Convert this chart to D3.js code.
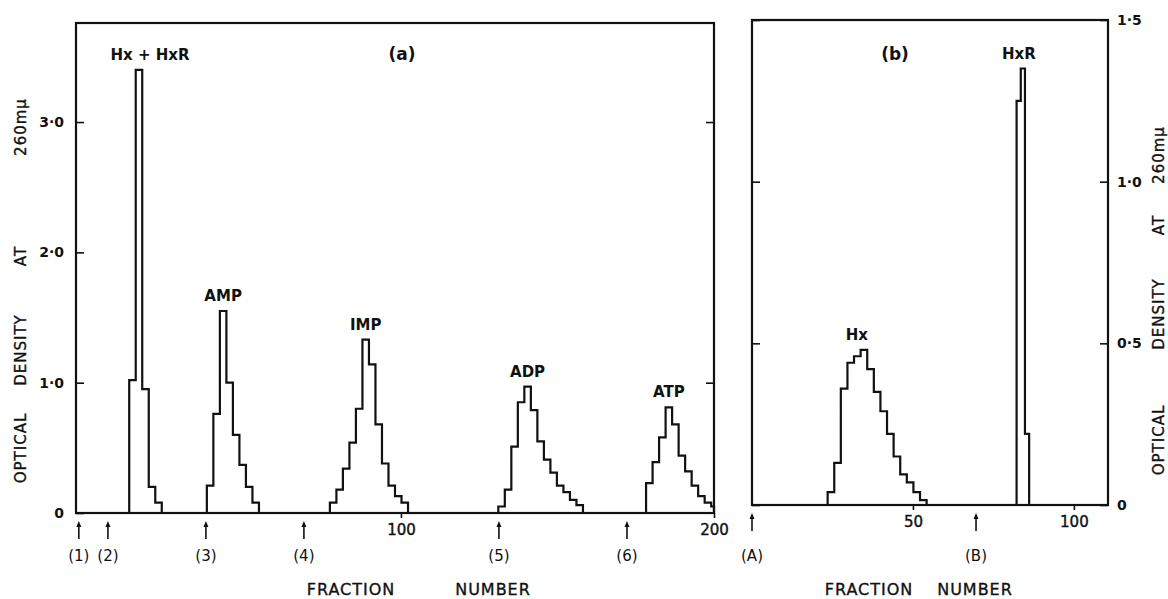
<!DOCTYPE html>
<html>
<head>
<meta charset="utf-8">
<script src="https://d3js.org/d3.v7.min.js"></script>
<style>
  body { margin: 0; background: #fff; }
  text { font-family: "DejaVu Sans", sans-serif; fill: #111; }
  .lbl { font-weight: bold; font-size: 15px; }
  .tick text { font-weight: bold; font-size: 14px; }
  .title { font-size: 15px; letter-spacing: 1px; stroke: #111; stroke-width: 0.35px; }
</style>
</head>
<body>
<div id="chart"></div>
<script>
// panel (a) - fractions 0..200, one step every ~2 fractions
var binA = 2.08;
var peaksA = ["Hx + HxR", "AMP", "IMP", "ADP", "ATP"];
var startA = [13.2, 38.0, 77.3, 131.1, 178.3];
var odHxHxR = [1.02, 3.40, 0.95, 0.20, 0.08];
var odAMP = [0.21, 0.76, 1.55, 1.00, 0.60, 0.37, 0.20, 0.08];
var odIMP = [0.08, 0.18, 0.34, 0.54, 0.80, 1.33, 1.14, 0.68, 0.38, 0.21, 0.13, 0.08];
var odADP = [0.05, 0.18, 0.51, 0.85, 0.97, 0.79, 0.55, 0.41, 0.31, 0.21, 0.16, 0.10, 0.06];
var odATP = [0.23, 0.39, 0.58, 0.81, 0.68, 0.44, 0.32, 0.21, 0.13, 0.08, 0.05];
var seriesA = [odHxHxR, odAMP, odIMP, odADP, odATP];
var arrowsA = [-2.9, 6.4, 37.7, 69.0, 131.3, 172.2];
var arrowLabelsA = ["(1)", "(2)", "(3)", "(4)", "(5)", "(6)"];
var yTicksA = [0, 1, 2, 3];
var yTicksRightA = [1, 3];
var xTicksA = [100, 200];

// panel (b)
var peaksB = ["Hx", "HxR"];
var startB = [23.5, 82.2];
var binB = [2.05, 1.3];
var odHx = [0.04, 0.13, 0.36, 0.44, 0.46, 0.48, 0.42, 0.35, 0.29, 0.22, 0.15, 0.095, 0.07, 0.04, 0.015];
var odHxR = [1.25, 1.35, 0.22];
var seriesB = [odHx, odHxR];
var arrowsB = [0, 69.6];
var arrowLabelsB = ["(A)", "(B)"];
var yTicksB = [0, 0.5, 1.0, 1.5];
var xTicksB = [50, 100];

var yWords = ["OPTICAL", "DENSITY", "AT", "260m\u03bc"];
var xWords = ["FRACTION", "NUMBER"];

var W = 1168, H = 599;
var svg = d3.select("#chart").append("svg")
  .attr("width", W).attr("height", H);

var xa = d3.scaleLinear().domain([-3.8, 200]).range([76, 714]);
var ya = d3.scaleLinear().domain([0, 3.76]).range([513, 23]);
var xb = d3.scaleLinear().domain([0, 110.6]).range([752, 1108]);
var yb = d3.scaleLinear().domain([0, 1.5]).range([505, 20]);

function fmt(d) {
  return d === 0 ? "0" : d3.format(".1f")(d).replace(".", "\u00b7");
}

// builds the outline of one stepped peak
function steps(start, w, vals, xmax) {
  var pts = [[start, 0]];
  vals.forEach(function(v, i) {
    pts.push([start + i * w, v]);
    pts.push([Math.min(start + (i + 1) * w, xmax), v]);
  });
  pts.push([Math.min(start + vals.length * w, xmax), 0]);
  return pts;
}

function arrow(g, x, y0) {
  g.append("line").attr("x1", x).attr("x2", x).attr("y1", y0 + 3).attr("y2", y0 + 18)
    .attr("stroke", "#111").attr("stroke-width", 1.6);
  g.append("path")
    .attr("d", "M" + x + "," + y0 + "L" + (x - 2.5) + "," + (y0 + 6) + "L" + (x + 2.5) + "," + (y0 + 6) + "Z")
    .attr("fill", "#111");
}

function panel(x, y, cfg) {
  var g = svg.append("g");
  var r = x.range(), rv = y.range();

  // peaks
  var line = d3.line().x(function(d) { return x(d[0]); }).y(function(d) { return y(d[1]); });
  cfg.series.forEach(function(vals, k) {
    var w = cfg.bins[k];
    var pts = steps(cfg.starts[k], w, vals, x.domain()[1]);
    g.append("path").attr("d", line(pts))
      .attr("fill", "none").attr("stroke", "#111").attr("stroke-width", 2.2)
      .attr("stroke-linejoin", "miter");
    // label above the tallest step
    var im = d3.maxIndex(vals);
    var cx = x(cfg.starts[k] + (im + 0.5) * w) + cfg.labelDx[k];
    g.append("text").attr("class", "lbl")
      .attr("x", cx).attr("y", y(vals[im]) - 10)
      .attr("text-anchor", "middle").text(cfg.names[k]);
  });

  // frame
  g.append("rect").attr("x", r[0]).attr("y", rv[1])
    .attr("width", r[1] - r[0]).attr("height", rv[0] - rv[1])
    .attr("fill", "none").attr("stroke", "#111").attr("stroke-width", 2.2);

  // y axes (ticks point inward)
  var left = g.append("g").attr("transform", "translate(" + r[0] + ",0)")
    .call(d3.axisLeft(y).tickValues(cfg.yTicks).tickSize(-8).tickPadding(12)
      .tickFormat(cfg.labelsLeft ? fmt : ""));
  var right = g.append("g").attr("transform", "translate(" + r[1] + ",0)")
    .call(d3.axisRight(y).tickValues(cfg.yTicksRight).tickSize(-8).tickPadding(9)
      .tickFormat(cfg.labelsLeft ? "" : fmt));
  [left, right].forEach(function(a) {
    a.select(".domain").remove();
    a.selectAll(".tick line").attr("stroke", "#111").attr("stroke-width", 1.6);
  });

  // x axis
  var bottom = g.append("g").attr("transform", "translate(0," + rv[0] + ")")
    .call(d3.axisBottom(x).tickValues(cfg.xTicks).tickSize(5).tickPadding(6));
  bottom.select(".domain").remove();
  bottom.selectAll(".tick line").attr("stroke", "#111").attr("stroke-width", 1.6);
  bottom.selectAll(".tick text").style("font-size", "15px").style("font-weight", "normal")
    .style("stroke", "#111").style("stroke-width", "0.4px");

  // fraction markers
  cfg.arrows.forEach(function(f, i) {
    arrow(g, x(f), rv[0] + 8);
    g.append("text").attr("x", x(f)).attr("y", 561)
      .attr("text-anchor", "middle").style("font-size", "15px")
      .text(cfg.arrowLabels[i]);
  });

  // panel letter
  g.append("text").attr("class", "lbl").attr("x", cfg.letterX).attr("y", 60)
    .attr("text-anchor", "middle").style("font-size", "17px").text(cfg.letter);

  // titles, word by word as lettered on the original
  xWords.forEach(function(wd, i) {
    g.append("text").attr("class", "title")
      .attr("x", cfg.xWordAt[i]).attr("y", 595).attr("text-anchor", "middle")
      .style("font-size", "16px").text(wd);
  });
  yWords.forEach(function(wd, i) {
    g.append("text").attr("class", "title")
      .attr("transform", "translate(" + cfg.yTitleX + "," + cfg.yWordAt[i] + ") rotate(-90)")
      .attr("text-anchor", "middle").attr("dy", "0.36em")
      .text(wd);
  });
}

panel(xa, ya, {
  series: seriesA, starts: startA, bins: seriesA.map(function() { return binA; }),
  names: peaksA, labelDx: [11, 0, 0, 0, 0],
  yTicks: yTicksA, yTicksRight: yTicksRightA, xTicks: xTicksA, labelsLeft: true,
  arrows: arrowsA, arrowLabels: arrowLabelsA,
  letter: "(a)", letterX: 402,
  xWordAt: [351, 493], yTitleX: 21, yWordAt: [448, 350, 256, 127]
});

panel(xb, yb, {
  series: seriesB, starts: startB, bins: binB,
  names: peaksB, labelDx: [-7, -4],
  yTicks: yTicksB, yTicksRight: yTicksB, xTicks: xTicksB, labelsLeft: false,
  arrows: arrowsB, arrowLabels: arrowLabelsB,
  letter: "(b)", letterX: 895,
  xWordAt: [869, 975], yTitleX: 1159, yWordAt: [440, 314, 225, 155]
});
</script>
</body>
</html>
